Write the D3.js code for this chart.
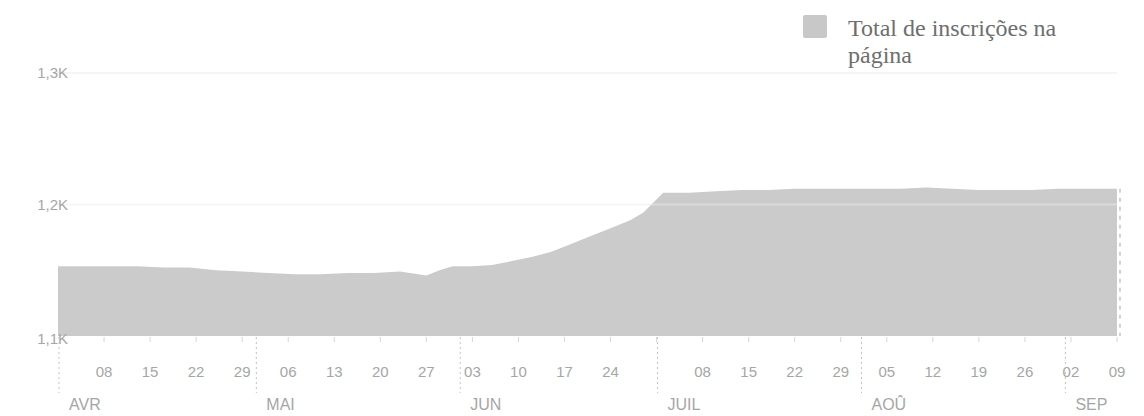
<!DOCTYPE html>
<html>
<head>
<meta charset="utf-8">
<script src="https://cdn.jsdelivr.net/npm/d3@7"></script>
<style>
  body { margin: 0; background: #fff; }
  svg { display: block; }
</style>
</head>
<body>
<div id="chart"></div>
<script>
// page fan totals
var dates = ["2012-04-01","2012-04-05","2012-04-09","2012-04-13","2012-04-17","2012-04-21","2012-04-25","2012-04-29",
  "2012-05-03","2012-05-07","2012-05-11","2012-05-15","2012-05-19","2012-05-23","2012-05-27","2012-05-29","2012-05-31",
  "2012-06-03","2012-06-06","2012-06-09","2012-06-12","2012-06-15","2012-06-18","2012-06-21","2012-06-24","2012-06-27","2012-06-29",
  "2012-07-02","2012-07-06","2012-07-10","2012-07-14","2012-07-18","2012-07-22","2012-07-26","2012-07-30",
  "2012-08-03","2012-08-07","2012-08-11","2012-08-15","2012-08-19","2012-08-23","2012-08-27","2012-08-31","2012-09-04","2012-09-09"];
var totals = [1153,1153,1153,1153,1152,1152,1150,1149,
  1148,1147,1147,1148,1148,1149,1146,1150,1153,
  1153,1154,1157,1160,1164,1170,1176,1182,1188,1194,
  1209,1209,1210,1211,1211,1212,1212,1212,
  1212,1212,1213,1212,1211,1211,1211,1212,1212,1212];
var yTicks = [1100, 1200, 1300];
var yTickLabels = ["1,1K", "1,2K", "1,3K"];
var monthLabels = ["AVR", "MAI", "JUN", "JUIL", "AOÛ", "SEP"];
var legendLabel = ["Total de inscrições na", "página"];

var width = 1144, height = 416;
var parse = d3.timeParse("%Y-%m-%d");
var data = dates.map(function(d, i) { return {date: parse(d), v: totals[i]}; });
var start = data[0].date, end = data[data.length - 1].date;

var x = d3.scaleTime().domain([start, end]).range([58, 1117]);
var y = d3.scaleLinear().domain([1100, 1300]).range([336, 73]);

var axisFont = "15px 'Liberation Sans', Arial, sans-serif";
var axisColor = "#a6a6a6";

var svg = d3.select("#chart").append("svg")
  .attr("width", width)
  .attr("height", height);

var area = d3.area()
  .x(function(d) { return x(d.date); })
  .y0(y(1100))
  .y1(function(d) { return y(d.v); });

svg.append("path")
  .datum(data)
  .attr("d", area)
  .attr("fill", "#cbcbcb");

// grid lines sit on top, faint
svg.selectAll(".grid")
  .data(yTicks.slice(1))
  .enter().append("line")
  .attr("x1", x(start) - 4).attr("x2", x(end))
  .attr("y1", function(d) { return y(d); })
  .attr("y2", function(d) { return y(d); })
  .attr("stroke", "#ececec")
  .attr("stroke-opacity", 0.5)
  .attr("stroke-width", 2);

svg.selectAll(".ylab")
  .data(yTicks)
  .enter().append("text")
  .attr("x", 68)
  .attr("y", function(d) { return y(d) + (d == 1100 ? 3 : 0); })
  .attr("dy", "0.35em")
  .attr("text-anchor", "end")
  .style("font", axisFont)
  .style("fill", axisColor)
  .text(function(d, i) { return yTickLabels[i]; });

// incomplete-data edge on the right
svg.append("line")
  .attr("x1", x(end) + 3).attr("x2", x(end) + 3)
  .attr("y1", y(totals[totals.length - 1]))
  .attr("y2", y(1100))
  .attr("stroke", "#c4c4c4")
  .attr("stroke-width", 1.5)
  .attr("stroke-dasharray", "4,5");

// weekly ticks
var weeks = d3.timeWeek.range(d3.timeDay.offset(start, 1), d3.timeDay.offset(end, 1));
var axisY = 336;
svg.selectAll(".tick")
  .data(weeks)
  .enter().append("line")
  .attr("x1", function(d) { return x(d); })
  .attr("x2", function(d) { return x(d); })
  .attr("y1", axisY + 1).attr("y2", axisY + 6)
  .attr("stroke", "#d6d6d6");

svg.selectAll(".tlab")
  .data(weeks.filter(function(d) { return d.getDate() != 1; }))
  .enter().append("text")
  .attr("x", function(d) { return x(d); })
  .attr("y", 377)
  .attr("text-anchor", "middle")
  .style("font", axisFont)
  .style("fill", axisColor)
  .text(d3.timeFormat("%d"));

// month dividers
var months = d3.timeMonth.range(start, end);
svg.selectAll(".mdiv")
  .data(months)
  .enter().append("line")
  .attr("x1", function(d) { return x(d) + 1; })
  .attr("x2", function(d) { return x(d) + 1; })
  .attr("y1", axisY + 1).attr("y2", 393)
  .attr("stroke", "#c2c2c2")
  .attr("stroke-dasharray", "2,3");

svg.selectAll(".mlab")
  .data(months)
  .enter().append("text")
  .attr("x", function(d) { return x(d) + 11; })
  .attr("y", 410)
  .style("font", "16px 'Liberation Sans', Arial, sans-serif")
  .style("fill", axisColor)
  .text(function(d, i) { return monthLabels[i]; });

// legend
var legend = svg.append("g").attr("transform", "translate(803,15)");
legend.append("rect")
  .attr("width", 24).attr("height", 23)
  .attr("rx", 2)
  .attr("fill", "#c8c8c8");
legend.selectAll("text")
  .data(legendLabel)
  .enter().append("text")
  .attr("x", 45)
  .attr("y", function(d, i) { return 21 + i * 27; })
  .style("font", "24px 'Liberation Serif', 'Times New Roman', serif")
  .style("fill", "#6e6e6e")
  .text(function(d) { return d; });
</script>
</body>
</html>
